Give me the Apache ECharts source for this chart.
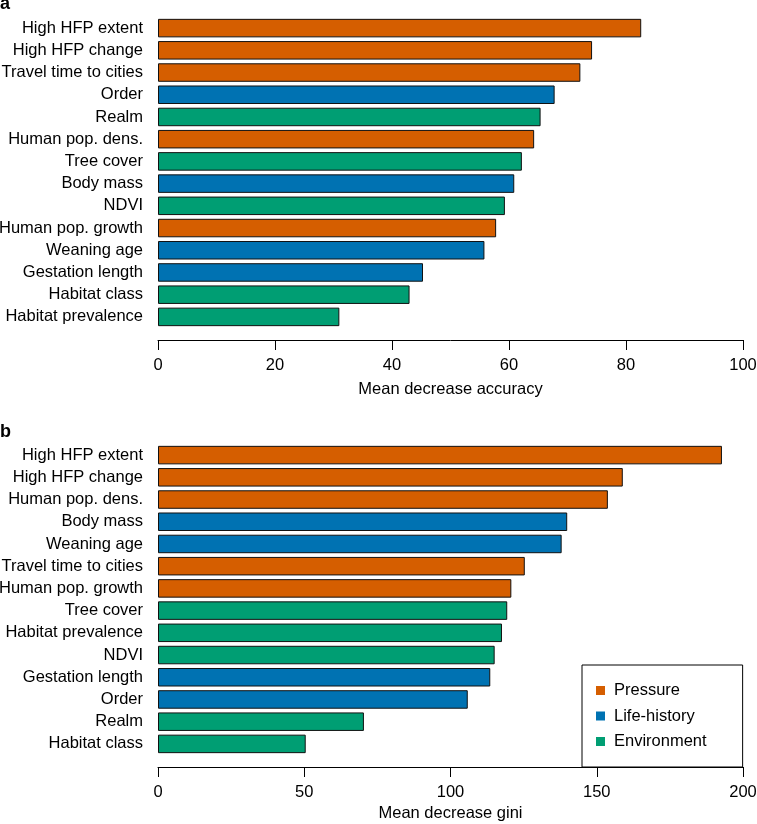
<!DOCTYPE html>
<html>
<head>
<meta charset="utf-8">
<script src="https://cdn.jsdelivr.net/npm/echarts/dist/echarts.min.js"></script>
<style>
  html, body { margin: 0; padding: 0; background: #fff; }
  #main { width: 757px; height: 824px; }
</style>
</head>
<body>
<div id="main"></div>
<script>
// panel a: mean decrease accuracy
var catsA = ['High HFP extent', 'High HFP change', 'Travel time to cities', 'Order', 'Realm',
    'Human pop. dens.', 'Tree cover', 'Body mass', 'NDVI', 'Human pop. growth',
    'Weaning age', 'Gestation length', 'Habitat class', 'Habitat prevalence'];
var valsA = [82.6, 74.2, 72.2, 67.8, 65.4, 64.3, 62.2, 60.9, 59.3, 57.8, 55.8, 45.3, 43.0, 31.0];
var groupA = ['Pressure', 'Pressure', 'Pressure', 'Life-history', 'Environment',
    'Pressure', 'Environment', 'Life-history', 'Environment', 'Pressure',
    'Life-history', 'Life-history', 'Environment', 'Environment'];

// panel b: mean decrease gini
var catsB = ['High HFP extent', 'High HFP change', 'Human pop. dens.', 'Body mass', 'Weaning age',
    'Travel time to cities', 'Human pop. growth', 'Tree cover', 'Habitat prevalence', 'NDVI',
    'Gestation length', 'Order', 'Realm', 'Habitat class'];
var valsB = [192.8, 158.9, 153.8, 139.9, 138.0, 125.4, 120.8, 119.4, 117.6, 115.1, 113.6, 105.9, 70.4, 50.5];
var groupB = ['Pressure', 'Pressure', 'Pressure', 'Life-history', 'Life-history',
    'Pressure', 'Pressure', 'Environment', 'Environment', 'Environment',
    'Life-history', 'Life-history', 'Environment', 'Environment'];

var groups = ['Pressure', 'Life-history', 'Environment'];
var groupColors = ['#D55E00', '#0072B2', '#009E73'];

var FONT = "'Liberation Sans', Arial, sans-serif";
var FS = 16.5;

function pick(vals, grp, g) {
    var out = [];
    for (var i = 0; i < vals.length; i++) {
        out.push(grp[i] == g ? vals[i] : '-');
    }
    return out;
}

var series = [];
groups.forEach(function(g, k){
    [[valsA, groupA, 0], [valsB, groupB, 1]].forEach(function(p){
        series.push({
            name: g,
            type: 'bar',
            xAxisIndex: p[2],
            yAxisIndex: p[2],
            data: pick(p[0], p[1], g),
            barGap: '-100%',
            barCategoryGap: '16.7%',
            itemStyle: { color: groupColors[k], borderColor: '#111', borderWidth: 1 },
            animation: false
        });
    });
});

function valueAxis(idx, max, interval, name, gap) {
    return {
        type: 'value',
        gridIndex: idx,
        min: 0,
        max: max,
        interval: interval,
        offset: 12,
        name: name,
        nameLocation: 'middle',
        nameGap: gap,
        nameTextStyle: { color: '#000', fontSize: FS, fontFamily: FONT },
        axisLine: { show: true, lineStyle: { color: '#000', width: 1 } },
        axisTick: { show: true, length: 10, lineStyle: { color: '#000', width: 1 } },
        axisLabel: { color: '#000', fontSize: FS, fontFamily: FONT, margin: 17 },
        splitLine: { show: false }
    };
}

function catAxis(idx, cats) {
    return {
        type: 'category',
        gridIndex: idx,
        inverse: true,
        data: cats,
        axisLine: { show: false },
        axisTick: { show: false },
        axisLabel: { color: '#000', fontSize: FS, fontFamily: FONT, margin: 15 }
    };
}

var myChart = echarts.init(document.getElementById('main'));
var option = {
    backgroundColor: '#fff',
    grid: [
        { left: 158, width: 585, top: 17, height: 311, containLabel: false, outerBoundsMode: 'none' },
        { left: 158, width: 585, top: 444, height: 311, containLabel: false, outerBoundsMode: 'none' }
    ],
    xAxis: [
        valueAxis(0, 100, 20, 'Mean decrease accuracy', 41),
        valueAxis(1, 200, 50, 'Mean decrease gini', 38)
    ],
    yAxis: [catAxis(0, catsA), catAxis(1, catsB)],
    legend: {
        data: groups,
        orient: 'vertical',
        left: 582,
        top: 665,
        padding: [17, 36, 17, 14],
        borderColor: '#000',
        borderWidth: 1,
        icon: 'rect',
        itemWidth: 9,
        itemHeight: 9,
        itemGap: 8.5,
        itemStyle: { borderWidth: 0 },
        selectedMode: false,
        textStyle: { color: '#000', fontSize: FS, lineHeight: 16.5, fontFamily: FONT, padding: [0, 0, 0, 4] }
    },
    graphic: [
        { type: 'text', left: 0, top: -5, style: { text: 'a', font: 'bold 18px ' + FONT, fill: '#000' } },
        { type: 'text', left: 0, top: 423, style: { text: 'b', font: 'bold 18px ' + FONT, fill: '#000' } }
    ],
    series: series
};
myChart.setOption(option);
</script>
</body>
</html>
